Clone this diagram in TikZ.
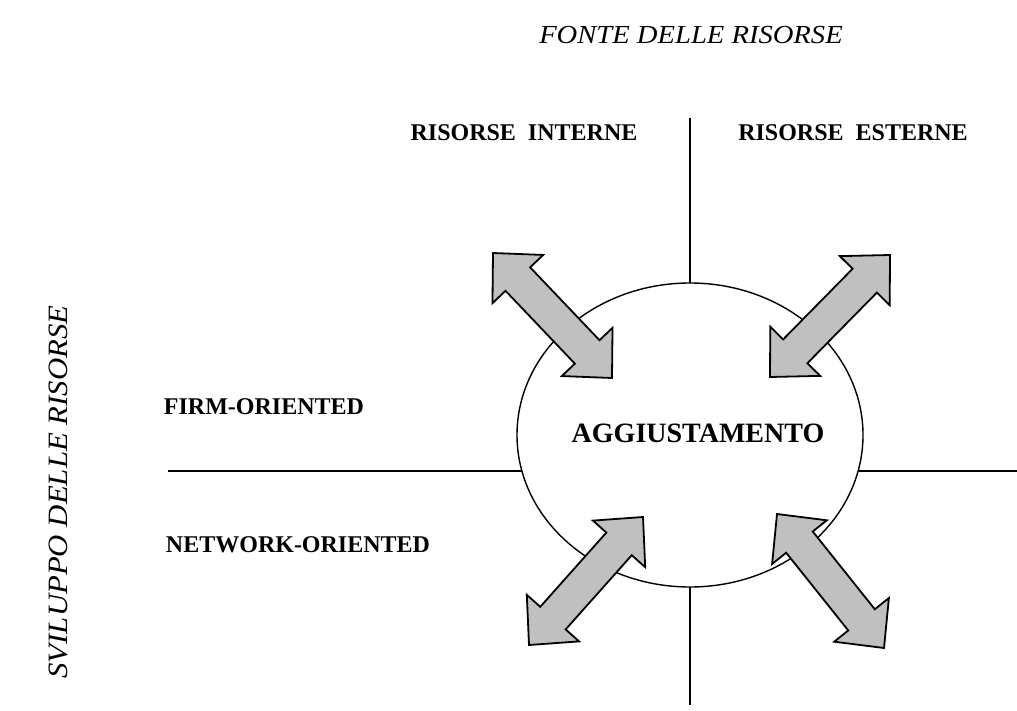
\documentclass[tikz,border=0pt]{standalone}
\usepackage{fontspec}
\setmainfont{Liberation Serif}
\usetikzlibrary{shapes.geometric,calc}

\definecolor{arrowgray}{RGB}{192,192,192}

\tikzset{
  axis/.style={line width=1.5pt, black},
  bubble/.style={ellipse, draw, line width=1.4pt, fill=white, inner sep=0pt},
  bigarrow/.style={draw, line width=1.8pt, line join=miter, fill=arrowgray},
  quadlabel/.style={font=\fontsize{24}{28}\selectfont\bfseries, inner sep=0pt},
  axistitle/.style={font=\fontsize{26}{30}\selectfont\itshape, inner sep=0pt},
  centerlabel/.style={font=\fontsize{28}{32}\selectfont\bfseries, inner sep=0pt}
}

% Block double arrow between two tip points #2 and #3, named #1
\newcommand\blockarrow[3]{%
  \path ($(#2)!36pt!(#3)$) coordinate (#1-p)
        ($(#3)!36pt!(#2)$) coordinate (#1-q);
  \draw[bigarrow] (#2)
    -- ($(#1-p)!35pt!90:(#2)$)
    -- ($(#1-p)!17pt!90:(#2)$)
    -- ($(#1-q)!17pt!-90:(#3)$)
    -- ($(#1-q)!35pt!-90:(#3)$)
    -- (#3)
    -- ($(#1-q)!35pt!90:(#3)$)
    -- ($(#1-q)!17pt!90:(#3)$)
    -- ($(#1-p)!17pt!-90:(#2)$)
    -- ($(#1-p)!35pt!-90:(#2)$)
    -- cycle;
}

\begin{document}
\begin{tikzpicture}[x=1pt,y=-1pt]
  \useasboundingbox[fill=white] (0,0) rectangle (1017,711);

  % axis end points
  \coordinate (vtop) at (690,118);
  \coordinate (vbot) at (690,705);
  \coordinate (hleft) at (168,471);
  \coordinate (hright) at (1017,471);
  \coordinate (c) at (690,435);

  % the two axes, partly hidden by the central bubble
  \draw[axis] (vtop) -- (c |- hleft) -- (vbot);
  \draw[axis] (hleft) -- (hright);

  % central bubble
  \node[bubble, minimum width=346pt, minimum height=304pt] (ell) at (c) {};
  \node[centerlabel] (adj) at (698,433) {AGGIUSTAMENTO};

  % block arrows at the four quadrants
  \coordinate (a1s) at (493,253); \coordinate (a1e) at (612,378);
  \coordinate (a2s) at (770,377); \coordinate (a2e) at (890,255);
  \coordinate (a3s) at (529,645); \coordinate (a3e) at (643,517);
  \coordinate (a4s) at (777,514); \coordinate (a4e) at (884,648);
  \blockarrow{a1}{a1s}{a1e}
  \blockarrow{a2}{a2s}{a2e}
  \blockarrow{a3}{a3s}{a3e}
  \blockarrow{a4}{a4s}{a4e}

  % titles and quadrant labels
  \node[axistitle] (fonte) at (691,35) {\scalebox{1.1}[1]{FONTE DELLE RISORSE}};
  \node[axistitle, font=\fontsize{28}{32}\selectfont\itshape, rotate=90] (sviluppo) at (58,492)
    {\scalebox{1.1}[1]{SVILUPPO DELLE RISORSE}};
  \node[quadlabel] (interne) at (524,133) {RISORSE\ \ INTERNE};
  \node[quadlabel] (esterne) at (853,133) {RISORSE\ \ ESTERNE};
  \node[quadlabel] (firm) at (264,407) {FIRM-ORIENTED};
  \node[quadlabel] (network) at (298,545) {NETWORK-ORIENTED};
\end{tikzpicture}
\end{document}
